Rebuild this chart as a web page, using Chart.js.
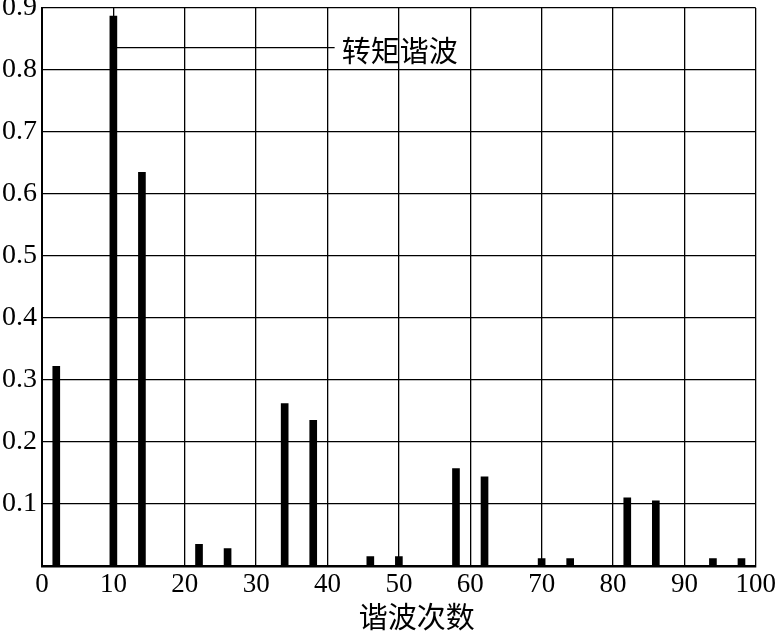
<!DOCTYPE html>
<html>
<head>
<meta charset="utf-8">
<script src="https://cdn.jsdelivr.net/npm/chart.js@4/dist/chart.umd.min.js"></script>
<style>
  body { margin: 0; background: #fff; }
  canvas { display: block; }
</style>
</head>
<body>
<canvas id="myChart" width="779" height="631"></canvas>
<script>
// harmonic orders and torque harmonic amplitudes
const orders = [2, 10, 14, 22, 26, 34, 38, 46, 50, 58, 62, 70, 74, 82, 86, 94, 98];
const amplitudes = [0.322, 0.887, 0.635, 0.035, 0.028, 0.262, 0.235, 0.015, 0.015, 0.157, 0.144, 0.012, 0.012, 0.110, 0.105, 0.012, 0.012];
const xTitle = '谐波次数';
const seriesLabel = '转矩谐波';
// where the label sits (data coords) and where its leader line ends
const labelAt = { x: 42.0, y: 0.831 };
const leaderEnd = { x: 41.0, y: 0.836 };

const serif = "'Liberation Serif', 'Times New Roman', serif";
const cjk = "'Noto Sans CJK SC', sans-serif";

const annotate = {
    id: 'annotate',
    beforeDraw(chart) {
        const ctx = chart.ctx;
        ctx.save();
        ctx.fillStyle = '#fff';
        ctx.fillRect(0, 0, chart.width, chart.height);
        ctx.restore();
    },
    afterDraw(chart) {
        const ctx = chart.ctx;
        const xs = chart.scales.x, ys = chart.scales.y;
        const bar = chart.getDatasetMeta(0).data[1];
        ctx.save();
        ctx.strokeStyle = '#000';
        ctx.lineWidth = 1.3;
        ctx.beginPath();
        ctx.moveTo(bar.x + bar.width / 2, ys.getPixelForValue(leaderEnd.y));
        ctx.lineTo(xs.getPixelForValue(leaderEnd.x), ys.getPixelForValue(leaderEnd.y));
        ctx.stroke();
        ctx.fillStyle = '#000';
        ctx.font = '29px ' + cjk;
        ctx.textBaseline = 'middle';
        ctx.textAlign = 'left';
        ctx.fillText(seriesLabel, xs.getPixelForValue(labelAt.x), ys.getPixelForValue(labelAt.y));
        // axis title, centred a bit right of the plot like the original
        ctx.textAlign = 'center';
        ctx.fillText(xTitle, xs.getPixelForValue(52.5), chart.height - 14);
        ctx.restore();
    }
};

new Chart(document.getElementById('myChart'), {
    type: 'bar',
    data: {
        datasets: [{
            label: seriesLabel,
            data: orders.map((o, i) => ({ x: o, y: amplitudes[i] })),
            backgroundColor: '#000',
            barThickness: 7
        }]
    },
    options: {
        responsive: false,
        devicePixelRatio: 1,
        animation: false,
        layout: { padding: { top: 8, right: 23, left: 0, bottom: 0 } },
        plugins: {
            legend: { display: false },
            tooltip: { enabled: false }
        },
        scales: {
            x: {
                type: 'linear',
                offset: false,
                min: 0,
                max: 100,
                ticks: {
                    stepSize: 10,
                    color: '#000',
                    font: { family: serif, size: 27 },
                    padding: 3,
                    maxRotation: 0
                },
                grid: { color: '#000', lineWidth: 1.3, drawTicks: false, offset: false },
                border: { color: '#000', width: 2.5 },
                afterFit: (scale) => { scale.height = 65; }
            },
            y: {
                min: 0,
                max: 0.9,
                ticks: {
                    stepSize: 0.1,
                    color: '#000',
                    font: { family: serif, size: 28 },
                    padding: 5,
                    callback: (v) => v === 0 ? '' : v.toFixed(1)
                },
                grid: { color: '#000', lineWidth: 1.3, drawTicks: false },
                border: { color: '#000', width: 2 },
                afterFit: (scale) => {
                    scale.width = 42;
                    scale.paddingTop = 0;
                    scale.paddingBottom = 0;
                }
            }
        }
    },
    plugins: [annotate]
});
</script>
</body>
</html>
